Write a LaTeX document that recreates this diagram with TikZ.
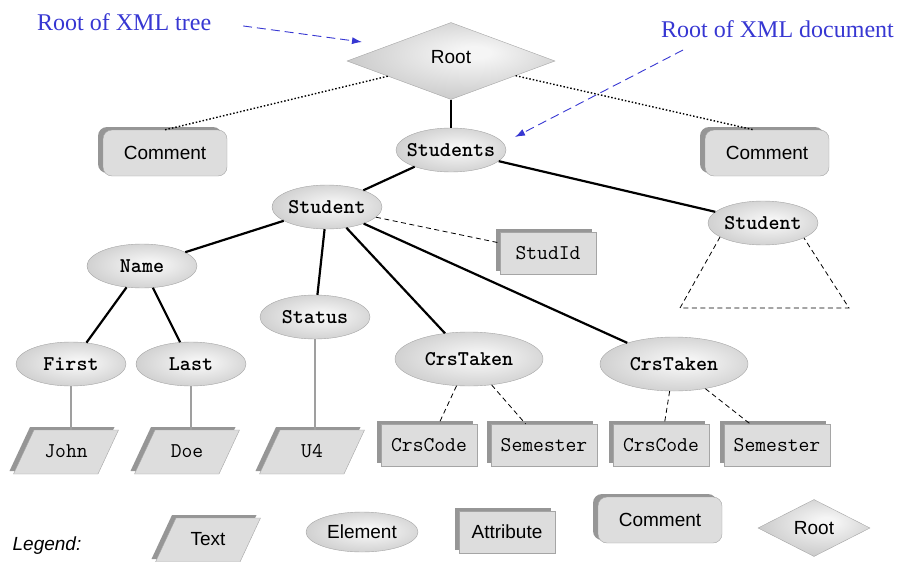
\documentclass[tikz,border=0pt]{standalone}
\usepackage{fontspec}
\setsansfont{Liberation Sans}
\newfontfamily\notefont{Liberation Serif}
\usepackage{tikz}
\usetikzlibrary{arrows.meta,shapes,shadows}
\usepackage{xcolor}
\definecolor{xmlfill}{RGB}{221,221,221}
\definecolor{xmlline}{RGB}{165,165,165}
\definecolor{xmlshadow}{RGB}{150,150,150}
\definecolor{xmlblue}{RGB}{55,55,210}
\definecolor{ballin}{RGB}{245,245,245}
\definecolor{ballout}{RGB}{172,172,172}
\definecolor{rootout}{RGB}{150,150,150}
\pgfdeclareradialshading{elemshade}{\pgfpoint{4bp}{2bp}}{color(0bp)=(ballin); color(4bp)=(ballin); color(50bp)=(ballout)}
\pgfdeclareradialshading{rootshade}{\pgfpoint{6bp}{6bp}}{color(0bp)=(ballin); color(4bp)=(ballin); color(58bp)=(rootout)}
\tikzstyle{elem} = [ellipse, shading=elemshade, draw=xmlline, minimum width=110, minimum height=44, inner xsep=-15pt, inner ysep=0pt, font=\fontsize{21}{24}\selectfont\ttfamily\bfseries]
\tikzstyle{attr} = [rectangle, fill=xmlfill, draw=xmlline, minimum width=96, minimum height=42, inner xsep=10pt, font=\fontsize{21}{24}\selectfont\ttfamily, drop shadow={shadow xshift=-4pt, shadow yshift=3pt, fill=xmlshadow, opacity=1}]
\tikzstyle{cmnt} = [rectangle, rounded corners=9pt, fill=xmlfill, draw=xmlline, minimum width=124, minimum height=46, font=\fontsize{19}{22}\selectfont\sffamily, drop shadow={shadow xshift=-5pt, shadow yshift=3pt, fill=xmlshadow, opacity=1}]
\tikzstyle{txt} = [trapezium, trapezium left angle=65, trapezium right angle=115, trapezium stretches body, fill=xmlfill, draw=xmlline, minimum width=105, text height=15pt, text depth=5pt, inner ysep=12pt, inner xsep=0pt, font=\fontsize{21}{24}\selectfont\ttfamily, drop shadow={shadow xshift=-4pt, shadow yshift=3pt, fill=xmlshadow, opacity=1}]
\tikzstyle{rootnode} = [diamond, shading=rootshade, draw=xmlline, minimum width=208, minimum height=77, inner sep=0pt, font=\fontsize{19}{22}\selectfont\sffamily]
\tikzstyle{nestline} = [line width=2.2pt, black]
\tikzstyle{valline} = [line width=1.3pt, gray!75]
\tikzstyle{attrline} = [line width=0.8pt, dash pattern=on 5pt off 3.5pt]
\tikzstyle{cmntline} = [line width=1.4pt, dash pattern=on 1.5pt off 2pt]
\tikzstyle{notelbl} = [inner sep=0pt, anchor=base west, text=xmlblue, font=\fontsize{24}{28}\selectfont\notefont]
\tikzstyle{notearrow} = [xmlblue, line width=0.9pt, dash pattern=on 9pt off 5pt, -{Latex[length=10pt,width=7pt]}]
\newcommand{\legendfont}{\fontsize{19}{22}\selectfont\sffamily}

\begin{document}
\begin{tikzpicture}[x=1pt, y=-1pt]
\useasboundingbox (0,0) rectangle (897,562);

% Annotations
\node[notelbl] (treelbl) at (37,30) {Root of XML tree};
\node[notelbl] (doclbl) at (661,37) {Root of XML document};
\coordinate (treetip) at (362,42);
\coordinate (docfrom) at (683,50);
\coordinate (doctip) at (515,137);

% Root and comments
\node[rootnode, text depth=8pt] (root) at (451,61) {Root};
\node[cmnt] (comL) at (165,153) {Comment};
\node[cmnt] (comR) at (767,153) {Comment};

% Elements
\node[elem] (students) at (451,150) {Students};
\node[elem] (studentL) at (327,207) {Student};
\node[elem] (studentR) at (763,223) {Student};
\node[elem] (name) at (142,266) {Name};
\node[elem] (status) at (315,317) {Status};
\node[elem] (first) at (71,364) {First};
\node[elem] (last) at (191,364) {Last};
\node[elem, minimum width=148, minimum height=54] (taken1) at (469,359) {CrsTaken};
\node[elem, minimum width=148, minimum height=54] (taken2) at (674,364) {CrsTaken};

% Attributes
\node[attr] (studid) at (548,253) {StudId};
\node[attr] (code1) at (429,445) {CrsCode};
\node[attr] (sem1) at (544,445) {Semester};
\node[attr] (code2) at (661,445) {CrsCode};
\node[attr] (sem2) at (777,445) {Semester};

% Text values
\node[txt] (john) at (66,452) {John};
\node[txt] (doe) at (187,452) {Doe};
\node[txt] (u4) at (312,452) {U4};

% Subtree of second student
\coordinate (treeBL) at (680,308);
\coordinate (treeBR) at (849,308);

% Connectors
\draw[nestline] (root) -- (students);
\draw[cmntline] (root) -- (comL.north);
\draw[cmntline] (root) -- (comR.120);
\draw[nestline] (students) -- (studentL);
\draw[nestline] (students) -- (studentR);
\draw[nestline] (studentL) -- (name);
\draw[nestline] (studentL) -- (status);
\draw[nestline] (studentL) -- (taken1);
\draw[nestline] (studentL) -- (taken2);
\draw[attrline] (studentL) -- (studid);
\draw[nestline] (name) -- (first);
\draw[nestline] (name) -- (last);
\draw[valline] (first) -- (first |- john.north);
\draw[valline] (last) -- (last |- doe.north);
\draw[valline] (status) -- (status |- u4.north);
\draw[attrline] (taken1) -- (code1);
\draw[attrline] (taken1) -- (sem1);
\draw[attrline] (taken2) -- (code2);
\draw[attrline] (taken2) -- (sem2);
\draw[attrline] (studentR.198) -- (treeBL) -- (treeBR) -- (studentR.340);
\draw[notearrow, shorten <=32pt] (treelbl.east) -- (treetip);
\draw[notearrow] (docfrom) -- (doctip);

% Legend
\node[font=\legendfont\itshape] (legend) at (47,546) {Legend:};
\node[txt, font=\legendfont] (lgtext) at (208,540) {Text};
\node[elem, font=\legendfont, minimum width=112, minimum height=40] (lgelem) at (362,532) {Element};
\node[attr, font=\legendfont] (lgattr) at (507,532) {Attribute};
\node[cmnt] (lgcmnt) at (660,520) {Comment};
\node[rootnode, minimum width=112, minimum height=57] (lgroot) at (814,528) {Root};
\end{tikzpicture}
\end{document}
